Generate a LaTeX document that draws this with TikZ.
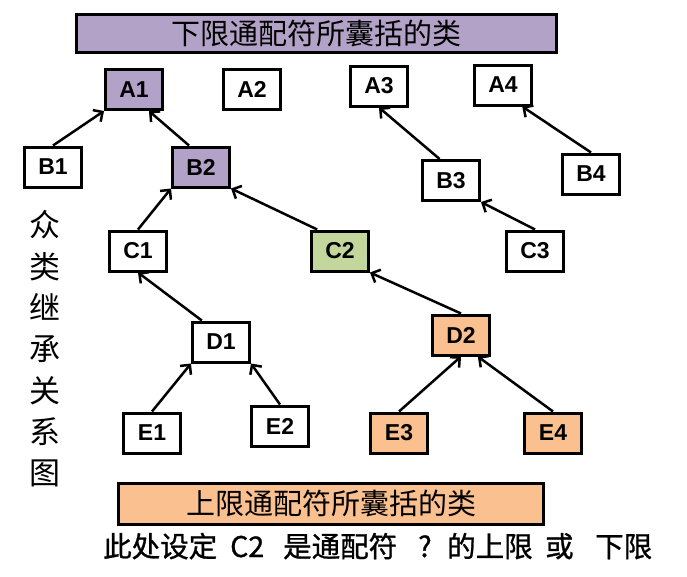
\documentclass[tikz,border=0pt]{standalone}
\usepackage{fontspec}
\setmainfont{Liberation Sans}
\newfontfamily\cjk{Noto Sans CJK SC}
\newfontfamily\cjkb{Noto Sans CJK SC}[FakeBold=1]
\usetikzlibrary{arrows.meta,calc}
\definecolor{purp}{HTML}{B3A2C7}
\definecolor{grn}{HTML}{C3D69B}
\definecolor{orng}{HTML}{FAC090}
\begin{document}
\begin{tikzpicture}[x=1pt,y=-1pt,
  cls/.style={draw, line width=3pt, minimum width=57pt, minimum height=40pt, inner sep=0pt,
    font=\fontsize{23}{23}\selectfont\bfseries},
  banner/.style={draw, line width=3pt, inner sep=0pt, font=\cjk\fontsize{29}{29}\selectfont},
  arr/.style={line width=2.5pt, -{Straight Barb[length=7pt,width=14pt]}}]
\useasboundingbox (0,0) rectangle (687,576);

\node[banner, fill=purp, minimum width=480pt, minimum height=38pt] (top) at (316.5,33.5) {下限通配符所囊括的类};
\node[banner, fill=orng, minimum width=425pt, minimum height=41pt] (bot) at (331,503.5) {上限通配符所囊括的类};

\node[cls, fill=purp] (A1) at (134,89.5) {A1};
\node[cls] (A2) at (252,89) {A2};
\node[cls] (A3) at (379,86) {A3};
\node[cls] (A4) at (503,85) {A4};
\node[cls] (B1) at (53,167) {B1};
\node[cls, fill=purp] (B2) at (201,167) {B2};
\node[cls] (B3) at (451,180.5) {B3};
\node[cls] (B4) at (591,174) {B4};
\node[cls] (C1) at (138,251) {C1};
\node[cls, fill=grn] (C2) at (340,251) {C2};
\node[cls] (C3) at (535,251) {C3};
\node[cls] (D1) at (221,342) {D1};
\node[cls, fill=orng] (D2) at (461,335) {D2};
\node[cls] (E1) at (152,433) {E1};
\node[cls] (E2) at (280,426) {E2};
\node[cls, fill=orng] (E3) at (399,433) {E3};
\node[cls, fill=orng] (E4) at (553,433) {E4};

\node[align=center, inner sep=0pt, font=\cjk\fontsize{31}{41.3}\selectfont] (side) at (45,349) {众\\类\\继\\承\\关\\系\\图};

\node[anchor=base west, inner sep=0pt, font=\cjkb\fontsize{28.5}{28.5}\selectfont] (note) at (103,557)
 {\rlap{此处设定}\hspace{127pt}\rlap{C2}\hspace{53pt}\rlap{是通配符}\hspace{135pt}\rlap{?}\hspace{29pt}\rlap{的上限}\hspace{98pt}\rlap{或}\hspace{50pt}下限};

\draw[arr] (B1.north) -- (A1.south west);
\draw[arr] ($(B2.north west)!0.3!(B2.north east)$) -- ($(A1.south west)!0.75!(A1.south east)$);
\draw[arr] (C1.north) -- (B2.south west);
\draw[arr] ($(C2.north west)!0.12!(C2.north east)$) -- (B2.south east);
\draw[arr] ($(D1.north west)!0.18!(D1.north east)$) -- (C1.south);
\draw[arr] (D2.north) -- (C2.south east);
\draw[arr] (E1.north) -- (D1.south west);
\draw[arr] (E2.north) -- (D1.south east);
\draw[arr] (E3.north) -- (D2.south);
\draw[arr] (E4.north) -- ($(D2.south west)!0.78!(D2.south east)$);
\draw[arr] ($(B3.north west)!0.31!(B3.north east)$) -- (A3.south);
\draw[arr] (B4.north) -- ($(A4.south west)!0.82!(A4.south east)$);
\draw[arr] (C3.north) -- (B3.south east);
\end{tikzpicture}
\end{document}
